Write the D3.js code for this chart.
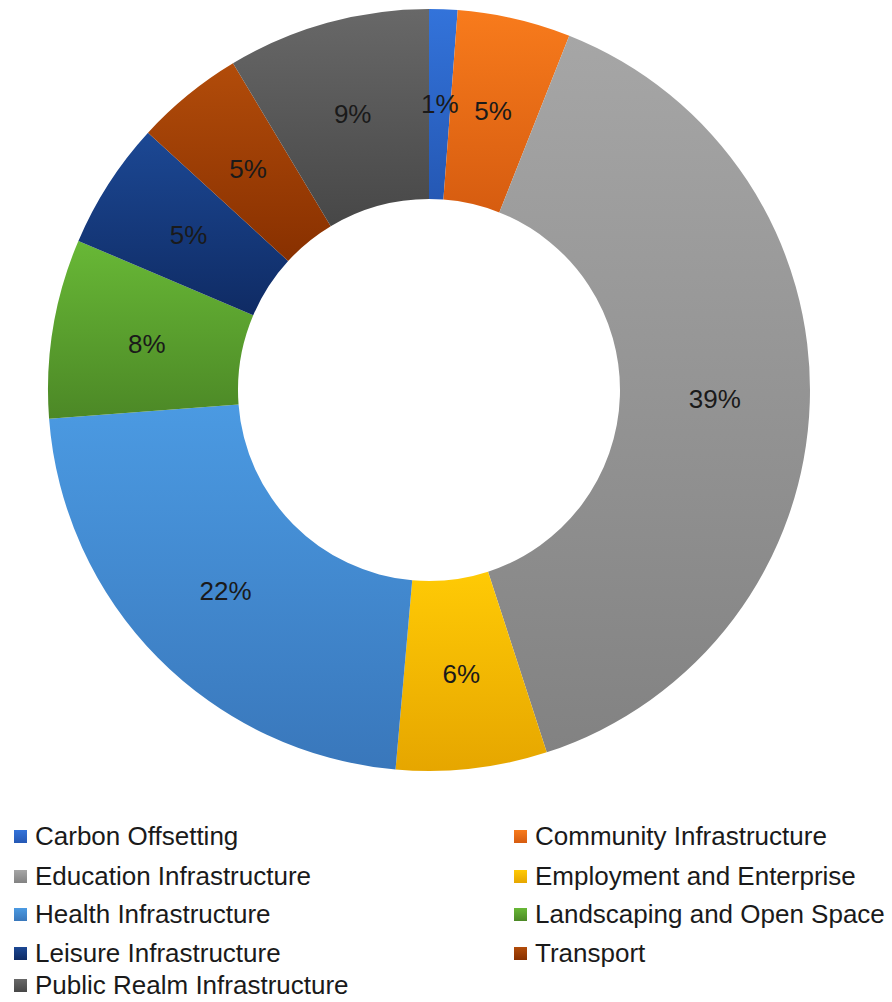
<!DOCTYPE html>
<html>
<head>
<meta charset="utf-8">
<script src="https://cdn.jsdelivr.net/npm/d3@7"></script>
<style>
  body { margin: 0; background: #fff; }
  text { font-family: "Liberation Sans", Arial, sans-serif; }
</style>
</head>
<body>
<svg id="chart" width="892" height="1002"></svg>
<script>
// slice values (percent)
var categories = ["Carbon Offsetting", "Community Infrastructure", "Education Infrastructure",
  "Employment and Enterprise", "Health Infrastructure", "Landscaping and Open Space",
  "Leisure Infrastructure", "Transport", "Public Realm Infrastructure"];
var shares = [1.2, 4.8, 39.0, 6.4, 22.4, 7.6, 5.4, 4.6, 8.6];
var topColors = ["#3373da", "#f87b1c", "#a6a6a6", "#ffca05", "#4b9ae2", "#68b836", "#1c4894", "#b24c0a", "#686868"];
var bottomColors = ["#2558b4", "#d65c10", "#828282", "#e6a600", "#3977bb", "#4c8826", "#0f2b64", "#883000", "#474747"];

var svg = d3.select("#chart");
var cx = 429, cy = 390;
var outerR = 381, innerR = 191;

var defs = svg.append("defs");
categories.forEach(function(c, i) {
  var g = defs.append("linearGradient")
    .attr("id", "grad" + i)
    .attr("x1", 0).attr("y1", 0).attr("x2", 0).attr("y2", 1);
  g.append("stop").attr("offset", "0%").attr("stop-color", topColors[i]);
  g.append("stop").attr("offset", "100%").attr("stop-color", bottomColors[i]);
});

var pie = d3.pie().sort(null).value(function(d) { return d; });
var arc = d3.arc().innerRadius(innerR).outerRadius(outerR);

var plot = svg.append("g").attr("transform", "translate(" + cx + "," + cy + ")");
var arcs = pie(shares);

plot.selectAll("path")
  .data(arcs)
  .enter().append("path")
  .attr("d", arc)
  .attr("fill", function(d, i) { return "url(#grad" + i + ")"; });

plot.selectAll("text.lbl")
  .data(arcs)
  .enter().append("text")
  .attr("class", "lbl")
  .attr("transform", function(d) { return "translate(" + arc.centroid(d) + ")"; })
  .attr("text-anchor", "middle")
  .attr("dy", "0.35em")
  .style("font-size", "26px")
  .attr("fill", "#1a1a1a")
  .text(function(d) { return Math.round(d.data) + "%"; });

// legend, two columns
var legend = svg.append("g");
var colX = [14, 514], rowY = [836, 876, 914, 953, 985];
var items = legend.selectAll("g")
  .data(categories)
  .enter().append("g")
  .attr("transform", function(d, i) {
    return "translate(" + colX[i % 2] + "," + rowY[Math.floor(i / 2)] + ")";
  });
items.append("rect")
  .attr("x", 0).attr("y", -6)
  .attr("width", 13).attr("height", 13)
  .attr("fill", function(d, i) { return "url(#grad" + i + ")"; });
items.append("text")
  .attr("x", 21).attr("dy", "0.35em")
  .style("font-size", "26px")
  .attr("fill", "#1a1a1a")
  .text(function(d) { return d; });
</script>
</body>
</html>
